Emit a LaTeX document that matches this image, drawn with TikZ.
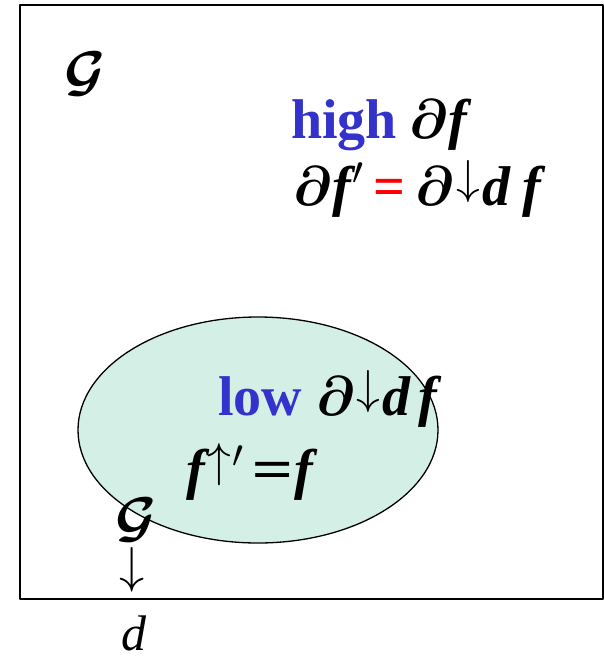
\documentclass[tikz,border=0pt]{standalone}
\usepackage{fix-cm}
\usepackage{fontspec}
\usepackage{amsmath,bm,graphicx}
\setmainfont{Liberation Serif}
\definecolor{lowfill}{HTML}{D4EFE5}
\definecolor{wordblue}{HTML}{3333CC}
\tikzset{big/.style={inner sep=0pt,anchor=base west,font=\fontsize{56}{60}\selectfont\bfseries\itshape}}
\newcommand{\calG}{\ensuremath{\bm{\mathcal{G}}}}
\newcommand{\dd}{\ensuremath{\bm{\partial}}}
\newcommand{\dn}{\raisebox{0.2em}{\scalebox{0.85}{$\downarrow$}}}
\newcommand{\up}{\raisebox{0.2em}{\scalebox{0.85}{$\uparrow$}}}
\newcommand{\gap}[1]{\hspace*{#1}}

\begin{document}
\begin{tikzpicture}[x=1pt,y=-1pt,line cap=round,line join=round]
  \useasboundingbox (0,0) rectangle (604,657);
  \draw[line width=1.3pt] (20,5) rectangle (603,599);
  \draw[line width=1.3pt,fill=lowfill] (258,430) ellipse [x radius=180,y radius=113];
  \node[big] (g1) at (64,90) {\calG};
  \node[big] (hi) at (291,138) {\textcolor{wordblue}{\upshape high}\gap{12pt}\dd\gap{1pt}f};
  \node[big] (eq1) at (293,205) {\dd\gap{1pt}f\gap{1pt}$'$\gap{10pt}\textcolor{red}{\upshape=}\gap{10pt}\dd\gap{2pt}\dn\gap{2pt}d\gap{12pt}f};
  \node[big] (lo) at (218,415) {\textcolor{wordblue}{\upshape low}\gap{14pt}\dd\gap{2pt}\dn\gap{2pt}d\gap{8pt}f};
  \node[big] (eq2) at (186,488) {f\gap{3pt}\up\gap{1pt}$'$\gap{8pt}\scalebox{1.3}[1]{=}\gap{1pt}f};
  \node[big] (g2) at (115,536) {\calG};
  \node[big] (ar) at (119,582) {\scalebox{0.9}{$\downarrow$}};
  \node[inner sep=0pt,anchor=base west,font=\fontsize{50}{56}\selectfont\itshape] (dd) at (121,650) {d};
\end{tikzpicture}
\end{document}
